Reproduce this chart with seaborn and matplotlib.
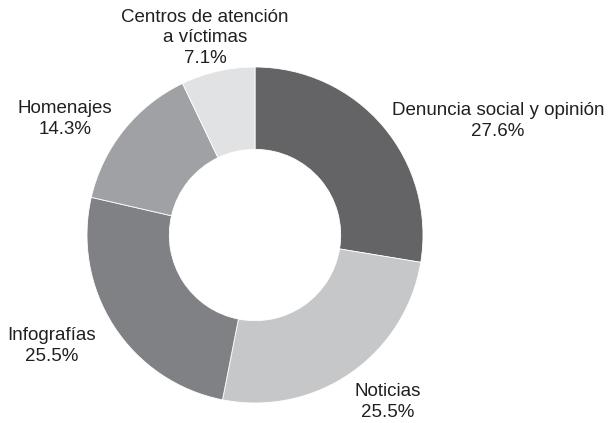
import seaborn as sns
import matplotlib.pyplot as plt

categorias = ['Denuncia social y opinión', 'Noticias', 'Infografías',
              'Homenajes', 'Centros de atención\na víctimas']
porcentajes = [27.6, 25.5, 25.5, 14.3, 7.1]
colores = ['#646466', '#c6c7c9', '#808185', '#a0a1a4', '#e1e2e4']

# label block centres in pixels (x from left, y from top)
pos_etiquetas = [(498, 121), (388, 402), (52, 346), (65, 119), (205, 38)]

sns.set_theme(style='white')
plt.rcParams['font.family'] = ['Liberation Sans', 'DejaVu Sans']

W, H = 610, 423
cx, cy, r = 255, 235, 168

fig = plt.figure(figsize=(W / 100, H / 100), dpi=100)
ax = fig.add_axes([0, 0, 1, 1])

ax.pie(porcentajes, colors=colores, startangle=90, counterclock=False,
       radius=1, wedgeprops=dict(width=0.49, edgecolor='white', linewidth=0.6))

for cat, val, (px, py) in zip(categorias, porcentajes, pos_etiquetas):
    ax.text((px - cx) / r, (cy - py) / r, f'{cat}\n{val:.1f}%',
            ha='center', va='center', multialignment='center',
            fontsize=13.5, color='#231f20', linespacing=1.3)

ax.set_xlim(-cx / r, (W - cx) / r)
ax.set_ylim(-(H - cy) / r, cy / r)
ax.set_aspect('auto')
ax.axis('off')

fig.savefig('out.png', dpi=100, facecolor='white')
